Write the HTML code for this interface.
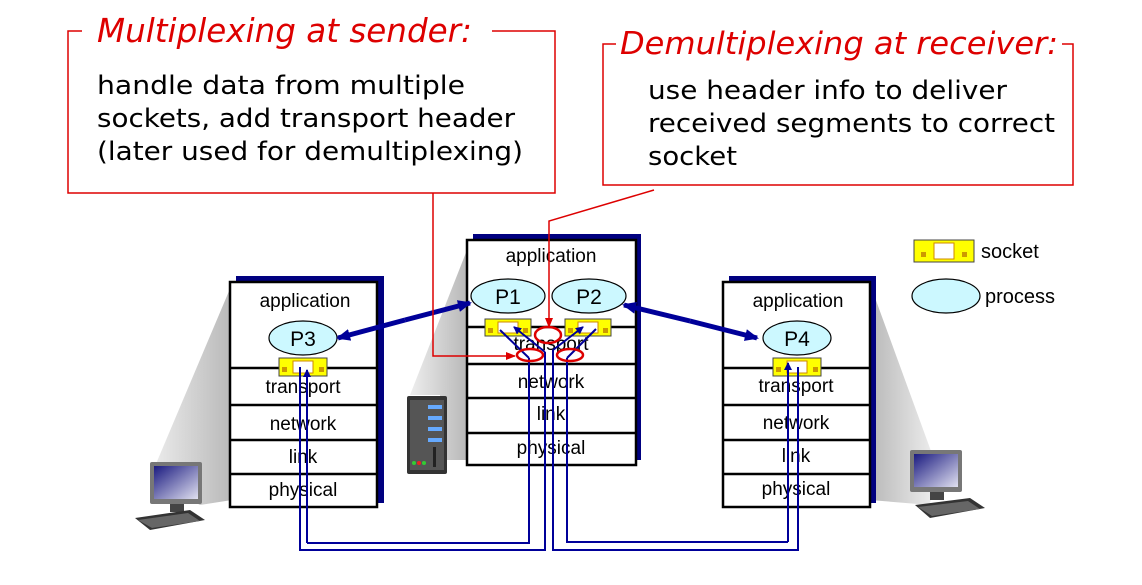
<!DOCTYPE html>
<html><head><meta charset="utf-8"><style>
body{margin:0;background:#fff;width:1142px;height:580px;overflow:hidden}
</style></head><body>
<svg width="1142" height="580" viewBox="0 0 1142 580" xmlns="http://www.w3.org/2000/svg" font-family="Liberation Sans, sans-serif">
<defs>
<linearGradient id="g1" x1="0" y1="0" x2="1" y2="0"><stop offset="0" stop-color="#eee"/><stop offset="1" stop-color="#b8b8b8"/></linearGradient>
<linearGradient id="g2" x1="0" y1="0" x2="1" y2="0"><stop offset="0" stop-color="#b8b8b8"/><stop offset="1" stop-color="#eee"/></linearGradient>
<linearGradient id="scr" x1="0" y1="0" x2="1" y2="1"><stop offset="0" stop-color="#1a1a80"/><stop offset="1" stop-color="#e0e0f0"/></linearGradient>
<marker id="ab" markerWidth="8" markerHeight="8" refX="7" refY="4" orient="auto" markerUnits="userSpaceOnUse"><path d="M0,0 L8,4 L0,8 z" fill="#000099"/></marker>
<marker id="ar" markerWidth="10" markerHeight="8" refX="9" refY="4" orient="auto" markerUnits="userSpaceOnUse"><path d="M0,0 L10,4 L0,8 z" fill="#d00"/></marker>
<marker id="big" markerWidth="14" markerHeight="12" refX="12" refY="6" orient="auto" markerUnits="userSpaceOnUse"><path d="M0,0 L14,6 L0,12 z" fill="#000099"/></marker>
</defs>
<polygon points="232,284 232,500 200,505 150,478" fill="url(#g1)"/>
<polygon points="870,284 870,500 930,505 935,462" fill="url(#g2)"/>
<polygon points="467,250 467,460 440,460 440,395 410,395" fill="url(#g1)"/>
<g>
<rect x="150" y="462" width="52" height="42" fill="#777" rx="2"/>
<rect x="154" y="466" width="44" height="33" fill="url(#scr)"/>
<rect x="170" y="504" width="14" height="8" fill="#444"/>
<polygon points="135,518 190,510 205,520 150,530" fill="#333"/>
<polygon points="138,520 188,513 200,521 152,528" fill="#666"/>
</g>
<g>
<rect x="910" y="450" width="52" height="42" fill="#777" rx="2"/>
<rect x="914" y="454" width="44" height="33" fill="url(#scr)"/>
<rect x="930" y="492" width="14" height="8" fill="#444"/>
<polygon points="915,505 970,498 985,508 930,518" fill="#333"/>
<polygon points="918,507 968,501 980,509 932,516" fill="#666"/>
</g>
<g>
<rect x="407" y="396" width="40" height="78" fill="#333" rx="2"/>
<rect x="410" y="400" width="34" height="70" fill="#555"/>
<rect x="428" y="405" width="14" height="4" fill="#6af"/>
<rect x="428" y="416" width="14" height="4" fill="#6af"/>
<rect x="428" y="427" width="14" height="4" fill="#6af"/>
<rect x="428" y="438" width="14" height="4" fill="#6af"/>
<rect x="433" y="447" width="3" height="20" fill="#222"/>
<circle cx="414" cy="463" r="2" fill="#3c3"/><circle cx="419" cy="463" r="2" fill="#e22"/><circle cx="424" cy="463" r="2" fill="#3c3"/>
</g>
<g stroke="#000" stroke-width="2.5" fill="#fff">
<rect x="236" y="276" width="148" height="227" fill="#000080" stroke="none"/>
<rect x="230" y="282" width="147" height="225"/>
<line x1="230" y1="368" x2="377" y2="368"/><line x1="230" y1="405" x2="377" y2="405"/><line x1="230" y1="440" x2="377" y2="440"/><line x1="230" y1="474" x2="377" y2="474"/>
<rect x="473" y="234" width="168" height="226" fill="#000080" stroke="none"/>
<rect x="467" y="240" width="169" height="225"/>
<line x1="467" y1="327" x2="636" y2="327"/><line x1="467" y1="364" x2="636" y2="364"/><line x1="467" y1="398" x2="636" y2="398"/><line x1="467" y1="433" x2="636" y2="433"/>
<rect x="729" y="276" width="147" height="227" fill="#000080" stroke="none"/>
<rect x="723" y="282" width="147" height="225"/>
<line x1="723" y1="368" x2="870" y2="368"/><line x1="723" y1="405" x2="870" y2="405"/><line x1="723" y1="440" x2="870" y2="440"/><line x1="723" y1="474" x2="870" y2="474"/>
</g>
<g font-size="19" fill="#000" text-anchor="middle">
<text x="305" y="307">application</text><text x="303" y="393">transport</text><text x="303" y="430">network</text><text x="303" y="463">link</text><text x="303" y="496">physical</text>
<text x="551" y="262">application</text><text x="551" y="350">transport</text><text x="551" y="388">network</text><text x="551" y="420">link</text><text x="551" y="454">physical</text>
<text x="798" y="307">application</text><text x="796" y="392">transport</text><text x="796" y="429">network</text><text x="796" y="462">link</text><text x="796" y="495">physical</text>
</g>
<g fill="#ccf8ff" stroke="#000" stroke-width="1.2">
<ellipse cx="508" cy="296" rx="37" ry="17"/><ellipse cx="589" cy="296" rx="37" ry="17"/>
<ellipse cx="303" cy="338" rx="34" ry="17"/><ellipse cx="797" cy="338" rx="34" ry="17"/>
<ellipse cx="946" cy="296" rx="34" ry="17"/>
</g>
<g font-size="21" text-anchor="middle"><text x="508" y="304">P1</text><text x="589" y="304">P2</text><text x="303" y="346">P3</text><text x="797" y="346">P4</text></g>
<g>
<g transform="translate(279,358)"><rect width="48" height="18" fill="#ff0" stroke="#444"/><rect x="14" y="3" width="20" height="12" fill="#fff" stroke="#c80"/><rect x="3" y="9" width="5" height="5" fill="#c90"/><rect x="40" y="9" width="5" height="5" fill="#c90"/></g>
<g transform="translate(773,358)"><rect width="48" height="18" fill="#ff0" stroke="#444"/><rect x="14" y="3" width="20" height="12" fill="#fff" stroke="#c80"/><rect x="3" y="9" width="5" height="5" fill="#c90"/><rect x="40" y="9" width="5" height="5" fill="#c90"/></g>
<g transform="translate(485,319)"><rect width="46" height="17" fill="#ff0" stroke="#444"/><rect x="13" y="3" width="20" height="11" fill="#fff" stroke="#c80"/><rect x="3" y="9" width="5" height="5" fill="#c90"/><rect x="38" y="9" width="5" height="5" fill="#c90"/></g>
<g transform="translate(565,319)"><rect width="46" height="17" fill="#ff0" stroke="#444"/><rect x="13" y="3" width="20" height="11" fill="#fff" stroke="#c80"/><rect x="3" y="9" width="5" height="5" fill="#c90"/><rect x="38" y="9" width="5" height="5" fill="#c90"/></g>
<g transform="translate(914,240)"><rect width="60" height="22" fill="#ff0" stroke="#444"/><rect x="20" y="3" width="20" height="16" fill="#fff" stroke="#c80"/><rect x="7" y="12" width="5" height="5" fill="#c90"/><rect x="48" y="12" width="5" height="5" fill="#c90"/></g>
</g>
<g font-size="20"><text x="981" y="258">socket</text><text x="985" y="303">process</text></g>
<g fill="none" stroke="#000099" stroke-width="2">
<polyline points="300,367 300,550 545,550 545,352"/>
<polyline points="307,543 529,543 529,358" />
<line x1="307" y1="543" x2="307" y2="370" marker-end="url(#ab)"/>
<polyline points="529,358 500,330"/>
<line x1="545" y1="352" x2="514" y2="327" marker-end="url(#ab)"/>
<polyline points="798,367 798,550 553,550 553,350"/>
<line x1="553" y1="350" x2="583" y2="327" marker-end="url(#ab)"/>
<polyline points="567,358 567,542 788,542"/>
<line x1="788" y1="542" x2="788" y2="363" marker-end="url(#ab)"/>
<line x1="567" y1="358" x2="596" y2="329"/>
</g>
<g stroke="#000099" stroke-width="5">
<line x1="405" y1="320" x2="470" y2="303" marker-end="url(#big)"/>
<line x1="405" y1="320" x2="338" y2="338" marker-end="url(#big)"/>
<line x1="690" y1="321" x2="624" y2="305" marker-end="url(#big)"/>
<line x1="690" y1="321" x2="757" y2="338" marker-end="url(#big)"/>
</g>
<g fill="none" stroke="#d00" stroke-width="2.5">
<ellipse cx="548" cy="335" rx="13" ry="8"/>
<ellipse cx="530" cy="355" rx="13" ry="6"/>
<ellipse cx="570" cy="355" rx="13" ry="6"/>
</g>
<g fill="none" stroke="#d00" stroke-width="1.5">
<rect x="68" y="31" width="487" height="162"/>
<rect x="603" y="44" width="470" height="141"/>
<polyline points="433,193 433,356 515,356" marker-end="url(#ar)"/>
<polyline points="654,190 549,221 549,327" marker-end="url(#ar)"/>
</g>
<rect x="82" y="10" width="410" height="40" fill="#fff"/>
<rect x="616" y="22" width="446" height="40" fill="#fff"/>
<g font-style="italic" fill="#d00" font-size="33" font-family="DejaVu Sans, sans-serif">
<text x="97" y="42" textLength="375" lengthAdjust="spacingAndGlyphs">Multiplexing at sender:</text>
<text x="620" y="54" font-size="31" textLength="438" lengthAdjust="spacingAndGlyphs">Demultiplexing at receiver:</text>
</g>
<g font-size="26" fill="#000" font-family="DejaVu Sans, sans-serif">
<text x="97" y="94" textLength="368" lengthAdjust="spacingAndGlyphs">handle data from multiple</text>
<text x="97" y="127" textLength="418" lengthAdjust="spacingAndGlyphs">sockets, add transport header</text>
<text x="97" y="160" textLength="426" lengthAdjust="spacingAndGlyphs">(later used for demultiplexing)</text>
<text x="648" y="99" textLength="359" lengthAdjust="spacingAndGlyphs">use header info to deliver</text>
<text x="648" y="132" textLength="407" lengthAdjust="spacingAndGlyphs">received segments to correct</text>
<text x="648" y="165" textLength="89" lengthAdjust="spacingAndGlyphs">socket</text>
</g>
</svg>
</body></html>
